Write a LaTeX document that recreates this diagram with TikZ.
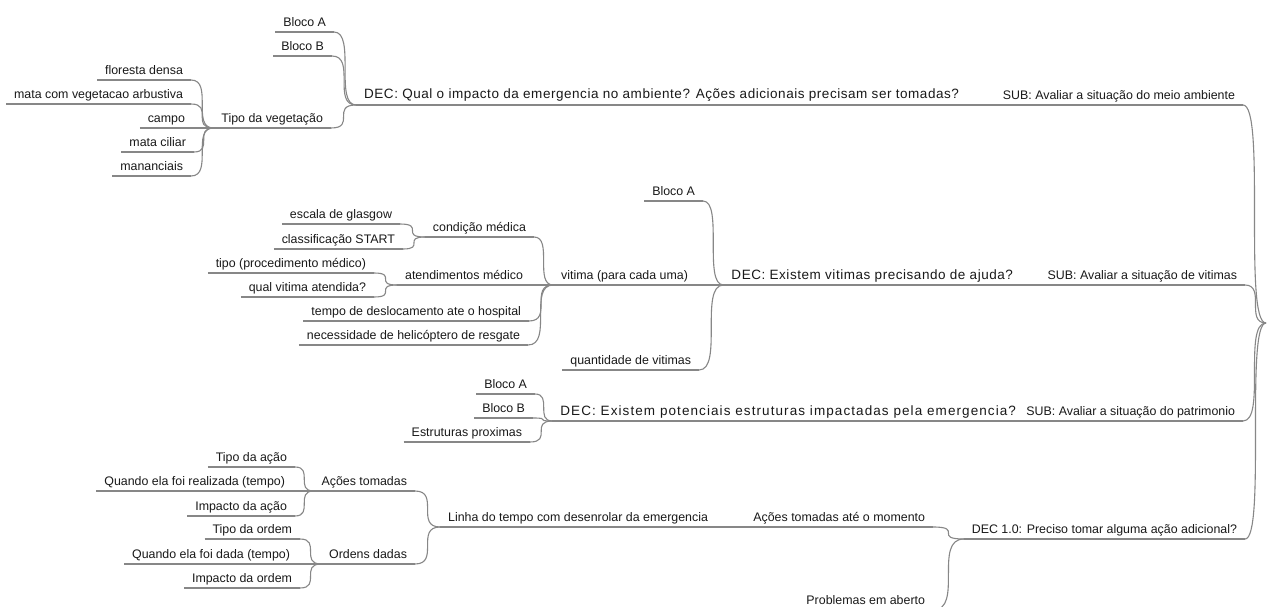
\documentclass[tikz,border=0pt]{standalone}
\usepackage{fontspec}
\setmainfont{Liberation Sans}
\newfontfamily\decfamily[LetterSpace=4]{Liberation Sans}
\newfontfamily\decwidefamily[LetterSpace=8]{Liberation Sans}
\usepackage{tikz}
\usetikzlibrary{positioning}

\definecolor{linegray}{RGB}{135,135,135}
\definecolor{inkgray}{RGB}{25,25,25}

\tikzset{
  link/.style={draw=linegray, line width=1.1pt},
  topic/.style={font=\fontsize{12.4}{14}\selectfont, text=inkgray, anchor=south east,
    inner xsep=8pt, inner ysep=5.5pt, text height=9pt, text depth=0pt, outer sep=0pt,
    append after command={(\tikzlastnode.south west) edge[link] (\tikzlastnode.south east)}},
  dec/.style={topic, font={\decfamily\fontsize{13.5}{16}\selectfont}, inner ysep=6pt},
  decwide/.style={dec, font={\decwidefamily\fontsize{13.5}{16}\selectfont}}
}

% curved connector from a child (right end of its line) to its parent
\newcommand{\linkto}[2]{\draw[link] (#1) .. controls (#1 -| #2) and (#2 -| #1) .. (#2);}

\begin{document}
\begin{tikzpicture}[x=1pt, y=-1pt]
                \path[use as bounding box, fill=white] (0,0) rectangle (1269,607);
                \coordinate (root) at (1266,323);

                % Meio ambiente
                \node[topic] (subamb) at (1243,105) {SUB: Avaliar a situação do meio ambiente};
                \node[dec] (decamb) at (967,105) {DEC: Qual o impacto da emergencia no ambiente? Ações adicionais precisam ser tomadas?};
                \node[topic] (blocoa1) at (334,32) {Bloco A};
                \node[topic] (blocob1) at (332,56) {Bloco B};
                \node[topic] (tipoveg) at (331,128) {Tipo da vegetação};
                \node[topic] (floresta) at (191,80) {floresta densa};
                \node[topic] (arbustiva) at (191,104) {mata com vegetacao arbustiva};
                \node[topic] (campo) at (193,128) {campo};
                \node[topic] (ciliar) at (194,152) {mata ciliar};
                \node[topic] (mananciais) at (191,176) {mananciais};

                % Vitimas
                \node[topic] (subvit) at (1245,285) {SUB: Avaliar a situação de vitimas};
                \node[dec] (decvit) at (1021,285) {DEC: Existem vitimas precisando de ajuda?};
                \node[topic] (blocoa2) at (703,201) {Bloco A};
                \node[topic] (vitima) at (696,285) {vitima (para cada uma)};
                \node[topic] (quantidade) at (699,370) {quantidade de vitimas};
                \node[topic] (condicao) at (534,237) {condição médica};
                \node[topic] (atendimento) at (531,285) {atendimentos médico};
                \node[topic] (deslocamento) at (529,321) {tempo de deslocamento ate o hospital};
                \node[topic] (helicoptero) at (528,345) {necessidade de helicóptero de resgate};
                \node[topic] (glasgow) at (400,224) {escala de glasgow};
                \node[topic] (start) at (403,249) {classificação START};
                \node[topic] (procedimento) at (374,273) {tipo (procedimento médico)};
                \node[topic] (atendida) at (374,297) {qual vitima atendida?};

                % Patrimonio
                \node[topic] (subpat) at (1243,421) {SUB: Avaliar a situação do patrimonio};
                \node[decwide] (decpat) at (1024,421) {DEC: Existem potenciais estruturas impactadas pela emergencia?};
                \node[topic] (blocoa3) at (535,394) {Bloco A};
                \node[topic] (blocob3) at (533,418) {Bloco B};
                \node[topic] (estruturas) at (530,442) {Estruturas proximas};

                % Acao adicional
                \node[topic] (decacao) at (1245,539) {DEC 1.0: Preciso tomar alguma ação adicional?};
                \node[topic] (momento) at (933,527) {Ações tomadas até o momento};
                \node[topic] (problemas) at (933,610) {Problemas em aberto};
                \node[topic] (linha) at (716,527) {Linha do tempo com desenrolar da emergencia};
                \node[topic] (acoes) at (415,491) {Ações tomadas};
                \node[topic] (ordens) at (415,564) {Ordens dadas};
                \node[topic] (tipoacao) at (295,467) {Tipo da ação};
                \node[topic] (realizada) at (293,491) {Quando ela foi realizada (tempo)};
                \node[topic] (impacao) at (295,516) {Impacto da ação};
                \node[topic] (tipoordem) at (300,539) {Tipo da ordem};
                \node[topic] (dada) at (298,564) {Quando ela foi dada (tempo)};
                \node[topic] (impordem) at (300,588) {Impacto da ordem};

                % Connectors
                \linkto{subamb.south east}{root}
                \linkto{subvit.south east}{root}
                \linkto{subpat.south east}{root}
                \linkto{decacao.south east}{root}

                \linkto{decamb.south east}{subamb.south west}
                \linkto{blocoa1.south east}{decamb.south west}
                \linkto{blocob1.south east}{decamb.south west}
                \linkto{tipoveg.south east}{decamb.south west}
                \linkto{floresta.south east}{tipoveg.south west}
                \linkto{arbustiva.south east}{tipoveg.south west}
                \linkto{campo.south east}{tipoveg.south west}
                \linkto{ciliar.south east}{tipoveg.south west}
                \linkto{mananciais.south east}{tipoveg.south west}

                \linkto{decvit.south east}{subvit.south west}
                \linkto{blocoa2.south east}{decvit.south west}
                \linkto{vitima.south east}{decvit.south west}
                \linkto{quantidade.south east}{decvit.south west}
                \linkto{condicao.south east}{vitima.south west}
                \linkto{atendimento.south east}{vitima.south west}
                \linkto{deslocamento.south east}{vitima.south west}
                \linkto{helicoptero.south east}{vitima.south west}
                \linkto{glasgow.south east}{condicao.south west}
                \linkto{start.south east}{condicao.south west}
                \linkto{procedimento.south east}{atendimento.south west}
                \linkto{atendida.south east}{atendimento.south west}

                \linkto{decpat.south east}{subpat.south west}
                \linkto{blocoa3.south east}{decpat.south west}
                \linkto{blocob3.south east}{decpat.south west}
                \linkto{estruturas.south east}{decpat.south west}

                \linkto{momento.south east}{decacao.south west}
                \linkto{problemas.south east}{decacao.south west}
                \linkto{linha.south east}{momento.south west}
                \linkto{acoes.south east}{linha.south west}
                \linkto{ordens.south east}{linha.south west}
                \linkto{tipoacao.south east}{acoes.south west}
                \linkto{realizada.south east}{acoes.south west}
                \linkto{impacao.south east}{acoes.south west}
                \linkto{tipoordem.south east}{ordens.south west}
                \linkto{dada.south east}{ordens.south west}
                \linkto{impordem.south east}{ordens.south west}
            \end{tikzpicture}
\end{document}
